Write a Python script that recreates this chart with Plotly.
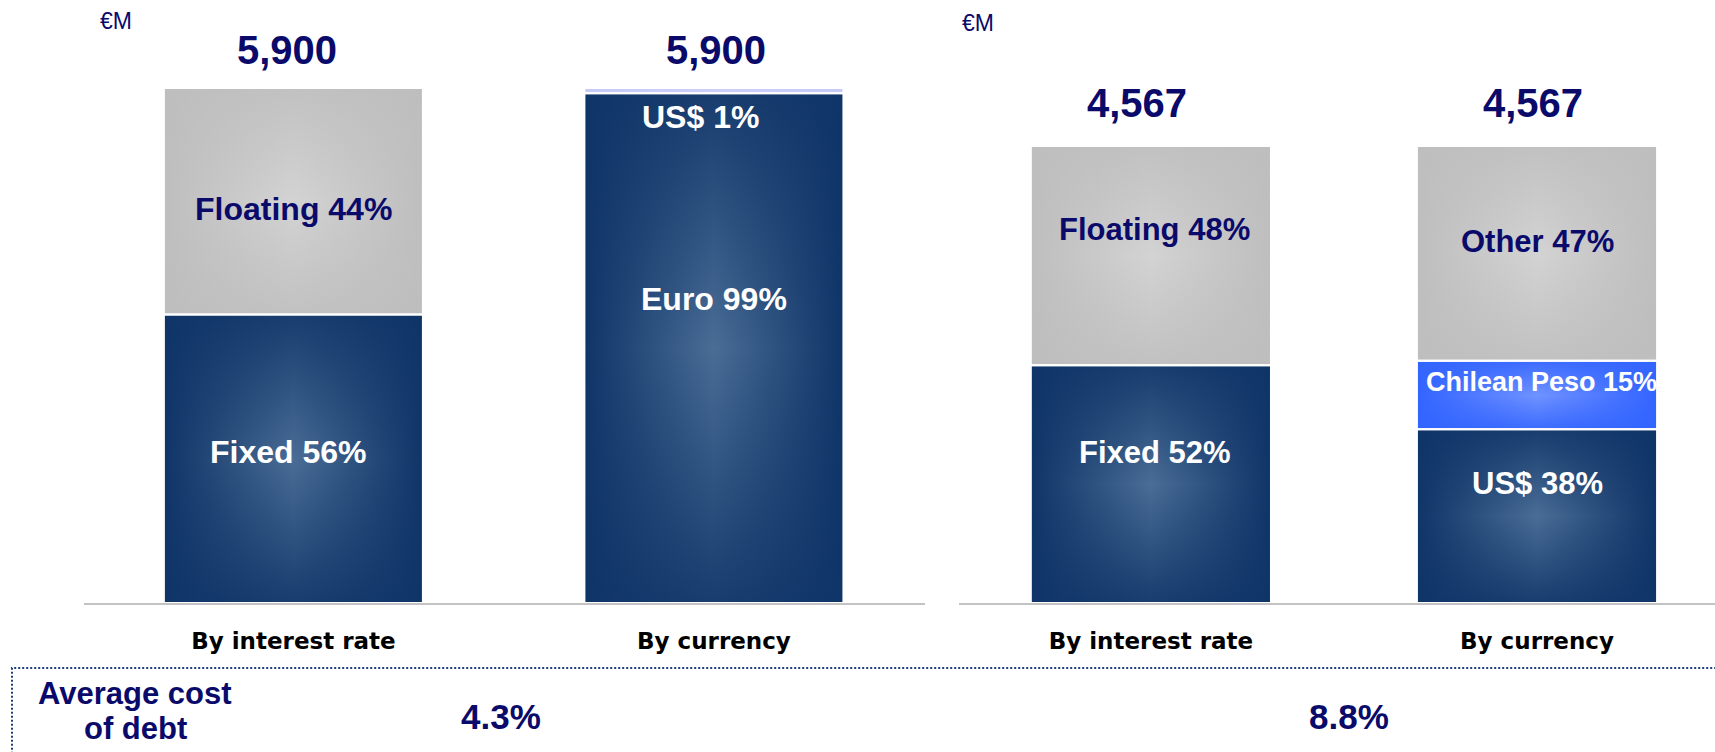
import plotly.graph_objects as go

# ---------------- data ----------------
categories = ["By interest rate", "By currency"]
panel_totals = [5900, 4567]            # €M
avg_cost_labels = ["4.3%", "8.8%"]

rate_names = ["Fixed", "Floating"]
rate_pct_left = [56, 44]
rate_pct_right = [52, 48]

cur_names_left = ["Euro", "US$"]
cur_pct_left = [99, 1]
cur_names_right = ["US$", "Chilean Peso", "Other"]
cur_pct_right = [38, 15, 47]

# ---------------- styles ----------------
W, H = 1715, 752
NAVY = ("#4a6d96", "#0f3467")     # (centre, edge) of the shaded fill
GREY = ("#d3d3d3", "#bebebe")
BLUE = ("#7093ff", "#3264ff")
LAV = ("#cdd0fa", "#c6caf7")
TXT_DARK = "#0a0a6b"
FONT = "Liberation Sans, Arial, sans-serif"

# bar styles / label heights (fraction of bar total) / label sizes / label x shifts
left_rate_style = [NAVY, GREY]
left_cur_style = [NAVY, LAV]
right_rate_style = [NAVY, GREY]
right_cur_style = [NAVY, BLUE, GREY]

left_rate_lab = [0.293, 0.765]
left_cur_lab = [0.590, 0.944]
right_rate_lab = [0.330, 0.817]
right_cur_lab = [0.262, 0.483, 0.791]

left_rate_size = [32, 32]
left_cur_size = [32, 32]
right_rate_size = [31, 31]
right_cur_size = [31, 27, 31]

left_rate_dx = [-5, 0]
left_cur_dx = [0, -13]
right_rate_dx = [4, 4]
right_cur_dx = [0, 4, 0]

# pixel geometry of the two panels
axis_y_px = 603
panels = [
    dict(xa="x", ya="y", dom=(84, 925), xr=(-0.498, 1.502), half=0.308,
         top_px=88, total_shift=38, total_dx=[-6, 2]),
    dict(xa="x2", ya="y2", dom=(959, 1715), xr=(-0.497, 1.461), half=0.311,
         top_px=146, total_shift=43, total_dx=[-14, -4]),
]

bars = [
    [(rate_names, rate_pct_left, left_rate_style, left_rate_lab, left_rate_size, left_rate_dx),
     (cur_names_left, cur_pct_left, left_cur_style, left_cur_lab, left_cur_size, left_cur_dx)],
    [(rate_names, rate_pct_right, right_rate_style, right_rate_lab, right_rate_size, right_rate_dx),
     (cur_names_right, cur_pct_right, right_cur_style, right_cur_lab, right_cur_size, right_cur_dx)],
]


def rgba(hex_color, a):
    h = hex_color.lstrip("#")
    r, g, b = int(h[0:2], 16), int(h[2:4], 16), int(h[4:6], 16)
    return f"rgba({r},{g},{b},{a})"


fig = go.Figure()
annotations = []
outlines = []

for p_idx, (panel, total) in enumerate(zip(panels, panel_totals)):
    xa, ya = panel["xa"], panel["ya"]
    half = panel["half"]
    for b_idx, (names, pcts, styles, lab_pos, lab_sizes, lab_dx) in enumerate(bars[p_idx]):
        base = 0.0
        for name, pct, style, lpos, lsize, ldx in zip(names, pcts, styles, lab_pos,
                                                      lab_sizes, lab_dx):
            val = total * pct / 100.0
            y0, y1 = base, base + val
            xs = [b_idx - half, b_idx + half, b_idx + half, b_idx - half, b_idx - half]
            ys = [y0, y0, y1, y1, y0]
            centre, edge = style
            # horizontal shading
            fig.add_trace(go.Scatter(
                x=xs, y=ys, xaxis=xa, yaxis=ya, mode="lines", fill="toself",
                line=dict(width=0, color=edge),
                fillgradient=dict(type="horizontal",
                                  colorscale=[[0, edge], [0.5, centre], [1, edge]]),
                hoverinfo="skip", showlegend=False))
            # vertical shading on top
            fig.add_trace(go.Scatter(
                x=xs, y=ys, xaxis=xa, yaxis=ya, mode="lines", fill="toself",
                line=dict(width=0, color=edge),
                fillgradient=dict(type="vertical",
                                  colorscale=[[0, rgba(edge, 0.85)], [0.5, rgba(edge, 0.0)],
                                              [1, rgba(edge, 0.85)]]),
                hoverinfo="skip", showlegend=False))
            outlines.append((xs, ys, xa, ya))

            txt_col = TXT_DARK if style is GREY else "white"
            annotations.append(dict(
                x=b_idx, y=total * lpos, xref=xa, yref=ya, xshift=ldx,
                text=f"<b>{name} {pct}%</b>", showarrow=False,
                font=dict(family=FONT, size=lsize, color=txt_col),
                xanchor="center", yanchor="middle"))
            base = y1

        # bar total above the stack
        annotations.append(dict(
            x=b_idx, y=total, xref=xa, yref=ya, text=f"<b>{total:,}</b>",
            showarrow=False, yshift=panel["total_shift"], xshift=panel["total_dx"][b_idx],
            font=dict(family=FONT, size=40, color=TXT_DARK),
            xanchor="center", yanchor="middle"))

# white separators between the stacked segments
for xs, ys, xa, ya in outlines:
    fig.add_trace(go.Scatter(x=xs, y=ys, xaxis=xa, yaxis=ya, mode="lines",
                             line=dict(color="white", width=2),
                             hoverinfo="skip", showlegend=False))

# unit labels
for x_px, y_px in [(116, 21), (978, 23)]:
    annotations.append(dict(x=x_px / W, y=1 - y_px / H, xref="paper", yref="paper",
                            text="€M", showarrow=False,
                            font=dict(family=FONT, size=23, color=TXT_DARK),
                            xanchor="center", yanchor="middle"))

# average cost of debt row
for line_txt, y_px in [("Average cost", 693), ("of debt", 728)]:
    annotations.append(dict(x=135 / W, y=1 - y_px / H, xref="paper", yref="paper",
                            text=f"<b>{line_txt}</b>", showarrow=False,
                            font=dict(family=FONT, size=31, color=TXT_DARK),
                            xanchor="center", yanchor="middle"))
for label, x_px in zip(avg_cost_labels, [501, 1349]):
    annotations.append(dict(x=x_px / W, y=1 - 716 / H, xref="paper", yref="paper",
                            text=f"<b>{label}</b>", showarrow=False,
                            font=dict(family=FONT, size=35, color=TXT_DARK),
                            xanchor="center", yanchor="middle"))

y_dom = [1 - axis_y_px / H, 1.0]
layout_axes = {}
for i, (panel, total) in enumerate(zip(panels, panel_totals)):
    sfx = "" if i == 0 else str(i + 1)
    top_frac = (axis_y_px - panel["top_px"]) / axis_y_px
    layout_axes["xaxis" + sfx] = dict(
        domain=[panel["dom"][0] / W, panel["dom"][1] / W],
        range=list(panel["xr"]), anchor="y" + sfx,
        tickvals=[0, 1], ticktext=categories, ticks="",
        tickfont=dict(family="DejaVu Sans, sans-serif", size=23, color="black",
                      weight="bold"),
        ticklabelstandoff=16,
        showgrid=False, zeroline=False, showline=True,
        linecolor="#c3c3c3", linewidth=2, fixedrange=True)
    layout_axes["yaxis" + sfx] = dict(
        domain=y_dom, range=[0, total / top_frac], anchor="x" + sfx,
        visible=False, showgrid=False, zeroline=False, fixedrange=True)

fig.update_layout(
    width=W, height=H, margin=dict(l=0, r=0, t=0, b=0),
    paper_bgcolor="white", plot_bgcolor="white",
    showlegend=False, annotations=annotations,
    shapes=[dict(type="rect", xref="paper", yref="paper",
                 x0=12 / W, x1=1.02, y0=-0.05, y1=1 - 668 / H,
                 line=dict(color="#1d3f7a", width=2, dash="2px,2px"),
                 fillcolor="rgba(0,0,0,0)", layer="above")],
    **layout_axes,
)

fig.write_html("out.html")
